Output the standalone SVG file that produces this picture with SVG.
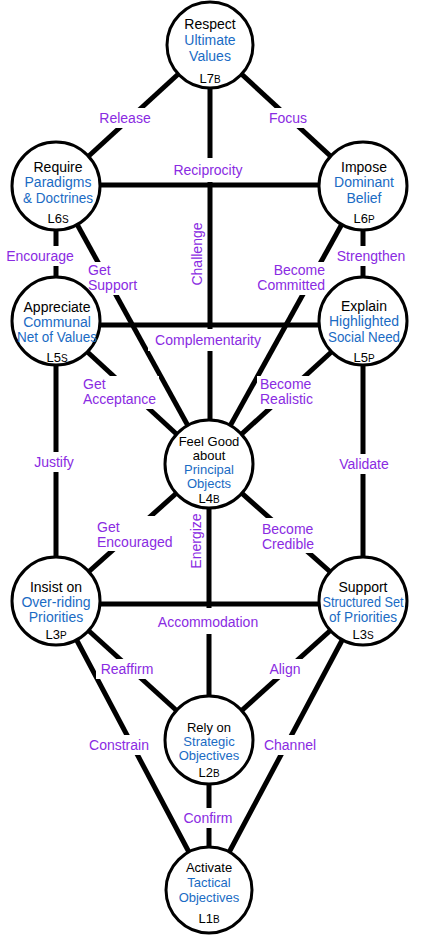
<svg xmlns="http://www.w3.org/2000/svg" width="422" height="938" viewBox="0 0 422 938">
<style>
.ln{stroke:#000;stroke-width:5;fill:none}
.bg{fill:#fff}
.lb{fill:#8a2be2;font-family:"Liberation Sans",Arial,sans-serif;font-size:14px}
.nd circle{fill:#fff;stroke:#000;stroke-width:3}
.nd text{font-family:"Liberation Sans",Arial,sans-serif;font-size:14px;text-anchor:middle}
.nd text.sm{font-size:13px}
.k{fill:#000}
.b{fill:#1a6bc4}
.nd text.lv{font-size:13px}
.sc{font-size:10px}
.m{text-anchor:middle}
.e{text-anchor:end}
</style>
<rect width="422" height="938" fill="#fff"/>
<g id="connectors">
<line class="ln" x1="210" y1="45" x2="56" y2="186"/>
<line class="ln" x1="210" y1="45" x2="363" y2="186"/>
<line class="ln" x1="210" y1="45" x2="210" y2="464"/>
<line class="ln" x1="56" y1="185" x2="363" y2="185"/>
<line class="ln" x1="56" y1="186" x2="56" y2="321"/>
<line class="ln" x1="363" y1="186" x2="363" y2="321"/>
<line class="ln" x1="56" y1="186" x2="209" y2="464"/>
<line class="ln" x1="363" y1="186" x2="209" y2="464"/>
<line class="ln" x1="56" y1="325" x2="363" y2="325"/>
<line class="ln" x1="56" y1="323" x2="209" y2="464"/>
<line class="ln" x1="363" y1="323" x2="209" y2="464"/>
<line class="ln" x1="56" y1="321" x2="56" y2="601"/>
<line class="ln" x1="363" y1="321" x2="363" y2="601"/>
<line class="ln" x1="209" y1="464" x2="56" y2="601"/>
<line class="ln" x1="209" y1="464" x2="363" y2="601"/>
<line class="ln" x1="209" y1="464" x2="209" y2="740"/>
<line class="ln" x1="56" y1="604" x2="363" y2="604"/>
<line class="ln" x1="56" y1="601" x2="209" y2="740"/>
<line class="ln" x1="363" y1="601" x2="209" y2="740"/>
<line class="ln" x1="56" y1="601" x2="209" y2="890"/>
<line class="ln" x1="363" y1="601" x2="209" y2="890"/>
<line class="ln" x1="209" y1="740" x2="209" y2="890"/>
<g id="label-bg">
<rect class="bg" x="97" y="108" width="57" height="20"/>
<rect class="bg" x="265" y="108" width="46" height="20"/>
<rect class="bg" x="169" y="158" width="78" height="24"/>
<rect class="bg" x="3" y="246" width="74" height="20"/>
<rect class="bg" x="333" y="246" width="77" height="20"/>
<rect class="bg" x="85" y="262" width="57" height="33"/>
<rect class="bg" x="252" y="262" width="76" height="33"/>
<rect class="bg" x="148" y="329" width="120" height="22"/>
<rect class="bg" x="80" y="376" width="79" height="33"/>
<rect class="bg" x="257" y="376" width="58" height="33"/>
<rect class="bg" x="31" y="452" width="46" height="20"/>
<rect class="bg" x="335" y="454" width="58" height="20"/>
<rect class="bg" x="94" y="516" width="82" height="35"/>
<rect class="bg" x="259" y="518" width="58" height="35"/>
<rect class="bg" x="153" y="608" width="111" height="26"/>
<rect class="bg" x="96" y="659" width="62" height="20"/>
<rect class="bg" x="266" y="659" width="39" height="20"/>
<rect class="bg" x="85" y="735" width="68" height="20"/>
<rect class="bg" x="260" y="735" width="60" height="20"/>
<rect class="bg" x="179" y="808" width="58" height="20"/>
</g>
<g id="labels">
<text class="lb m" x="125" y="123">Release</text>
<text class="lb m" x="288" y="123">Focus</text>
<text class="lb m" x="208" y="175">Reciprocity</text>
<text class="lb m" transform="translate(202,254) rotate(-90)">Challenge</text>
<text class="lb m" x="40" y="261">Encourage</text>
<text class="lb m" x="371" y="261">Strengthen</text>
<text class="lb" x="88" y="275">Get</text>
<text class="lb" x="88" y="290">Support</text>
<text class="lb e" x="325" y="275">Become</text>
<text class="lb e" x="325" y="290">Committed</text>
<text class="lb m" x="208" y="345">Complementarity</text>
<text class="lb" x="83" y="389">Get</text>
<text class="lb" x="83" y="404">Acceptance</text>
<text class="lb" x="260" y="389">Become</text>
<text class="lb" x="260" y="404">Realistic</text>
<text class="lb m" x="54" y="467">Justify</text>
<text class="lb m" x="364" y="469">Validate</text>
<text class="lb" x="97" y="532">Get</text>
<text class="lb" x="97" y="547">Encouraged</text>
<text class="lb" x="262" y="534">Become</text>
<text class="lb" x="262" y="549">Credible</text>
<text class="lb m" transform="translate(201,541) rotate(-90)">Energize</text>
<text class="lb m" x="208" y="627">Accommodation</text>
<text class="lb m" x="127" y="674">Reaffirm</text>
<text class="lb m" x="285" y="674">Align</text>
<text class="lb m" x="119" y="750">Constrain</text>
<text class="lb m" x="290" y="750">Channel</text>
<text class="lb m" x="208" y="823">Confirm</text>
</g>
</g>
<g id="n7" class="nd">
<circle cx="210" cy="45" r="43"/>
<text class="k" x="210" y="29">Respect</text>
<text class="b" x="210" y="45">Ultimate</text>
<text class="b" x="210" y="61">Values</text>
<text class="k lv" x="210" y="83">L7<tspan class="sc">B</tspan></text>
</g>
<g id="n6s" class="nd">
<circle cx="56" cy="186" r="44"/>
<text class="k" x="58" y="172">Require</text>
<text class="b" x="58" y="187">Paradigms</text>
<text class="b" x="58" y="203" textLength="70" lengthAdjust="spacingAndGlyphs">&amp; Doctrines</text>
<text class="k lv" x="58" y="223">L6<tspan class="sc">S</tspan></text>
</g>
<g id="n6p" class="nd">
<circle cx="363" cy="186" r="44"/>
<text class="k" x="364" y="172">Impose</text>
<text class="b" x="364" y="187">Dominant</text>
<text class="b" x="364" y="203">Belief</text>
<text class="k lv" x="364" y="223">L6<tspan class="sc">P</tspan></text>
</g>
<g id="n5s" class="nd">
<circle cx="56" cy="321" r="44"/>
<text class="k" x="57" y="312">Appreciate</text>
<text class="b" x="57" y="327">Communal</text>
<text class="b" x="57" y="342" textLength="80" lengthAdjust="spacingAndGlyphs">Net of Values</text>
<text class="k lv" x="57" y="362">L5<tspan class="sc">S</tspan></text>
</g>
<g id="n5p" class="nd">
<circle cx="363" cy="321" r="44"/>
<text class="k" x="364" y="311">Explain</text>
<text class="b" x="364" y="326">Highlighted</text>
<text class="b" x="364" y="342" textLength="72" lengthAdjust="spacingAndGlyphs">Social Need</text>
<text class="k lv" x="364" y="362">L5<tspan class="sc">P</tspan></text>
</g>
<g id="n4" class="nd">
<circle cx="209" cy="464" r="44"/>
<text class="k sm" x="209" y="446">Feel Good</text>
<text class="k sm" x="209" y="460">about</text>
<text class="b sm" x="209" y="474">Principal</text>
<text class="b sm" x="209" y="488">Objects</text>
<text class="k lv" x="209" y="503">L4<tspan class="sc">B</tspan></text>
</g>
<g id="n3p" class="nd">
<circle cx="56" cy="601" r="44"/>
<text class="k" x="56" y="592">Insist on</text>
<text class="b" x="56" y="607">Over-riding</text>
<text class="b" x="56" y="622">Priorities</text>
<text class="k lv" x="56" y="639">L3<tspan class="sc">P</tspan></text>
</g>
<g id="n3s" class="nd">
<circle cx="363" cy="601" r="44"/>
<text class="k" x="363" y="592">Support</text>
<text class="b" x="363" y="607" textLength="81" lengthAdjust="spacingAndGlyphs">Structured Set</text>
<text class="b" x="363" y="622" textLength="68" lengthAdjust="spacingAndGlyphs">of Priorities</text>
<text class="k lv" x="363" y="639">L3<tspan class="sc">S</tspan></text>
</g>
<g id="n2" class="nd">
<circle cx="209" cy="740" r="44"/>
<text class="k sm" x="209" y="732">Rely on</text>
<text class="b sm" x="209" y="746">Strategic</text>
<text class="b sm" x="209" y="760">Objectives</text>
<text class="k lv" x="209" y="777">L2<tspan class="sc">B</tspan></text>
</g>
<g id="n1" class="nd">
<circle cx="209" cy="890" r="43"/>
<text class="k sm" x="209" y="872">Activate</text>
<text class="b sm" x="209" y="887">Tactical</text>
<text class="b sm" x="209" y="902">Objectives</text>
<text class="k lv" x="209" y="923">L1<tspan class="sc">B</tspan></text>
</g>
</svg>
